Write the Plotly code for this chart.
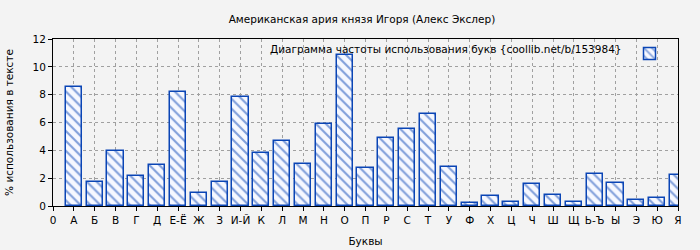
import plotly.graph_objects as go

title = "Американская ария князя Игоря (Алекс Экслер)"
series_name = "Диаграмма частоты использования букв {coollib.net/b/153984}"
x_title = "Буквы"
y_title = "% использования в тексте"

letters = ["0", "А", "Б", "В", "Г", "Д", "Е-Ё", "Ж", "З", "И-Й", "К", "Л", "М", "Н",
           "О", "П", "Р", "С", "Т", "У", "Ф", "Х", "Ц", "Ч", "Ш", "Щ", "Ь-Ъ", "Ы",
           "Э", "Ю", "Я"]
values = [None, 8.55, 1.70, 3.95, 2.13, 2.92, 8.17, 0.91, 1.70, 7.81, 3.78, 4.64, 2.99,
          5.87, 10.82, 2.71, 4.86, 5.51, 6.63, 2.78, 0.19, 0.69, 0.26, 1.56, 0.77,
          0.26, 2.27, 1.63, 0.41, 0.55, 2.20]

positions = list(range(len(letters)))

FONT = "DejaVu Sans"
FS = 10.5
BLUE = "#0a45b5"
BG = "#f3f3f3"

fig = go.Figure()
fig.add_trace(go.Bar(
    x=positions,
    y=values,
    width=0.77,
    name=" ",
    marker=dict(
        color="#ffffff",
        line=dict(color=BLUE, width=1.5),
        pattern=dict(shape="\\", fgcolor=BLUE, bgcolor="#f6f8ff", size=7, solidity=0.3),
    ),
    showlegend=True,
))

fig.update_layout(
    width=700, height=250,
    margin=dict(l=53, r=22, t=39, b=44),
    paper_bgcolor=BG, plot_bgcolor=BG,
    font=dict(family=FONT, size=FS, color="#000"),
    title=dict(text=title, x=362 / 700, xanchor="center", y=1 - 19 / 250, yanchor="middle",
               font=dict(family=FONT, size=FS, color="#000")),
    showlegend=True,
    legend=dict(
        x=1, xanchor="right", y=1, yanchor="top",
        bgcolor="rgba(0,0,0,0)",
        title=dict(text=series_name, side="left", font=dict(family=FONT, size=FS)),
        font=dict(family=FONT, size=FS),
        itemwidth=30,
        tracegroupgap=0,
    ),
    bargap=0,
)

fig.update_xaxes(
    range=[0, len(letters) - 1],
    tickmode="array", tickvals=positions, ticktext=letters,
    ticks="outside", ticklen=4, tickcolor="#000",
    showline=True, linecolor="#000", linewidth=1, mirror=True,
    showgrid=True, gridcolor="#a0a0a0", griddash="dot", gridwidth=1,
    zeroline=False, automargin=False,
    tickfont=dict(family=FONT, size=FS),
    title=dict(text=x_title, font=dict(family=FONT, size=FS), standoff=13),
)
fig.update_yaxes(
    range=[0, 12], dtick=2,
    ticks="outside", ticklen=4, tickcolor="#000",
    showline=True, linecolor="#000", linewidth=1, mirror=True,
    showgrid=True, gridcolor="#a0a0a0", griddash="dot", gridwidth=1,
    zeroline=False, automargin=False,
    tickfont=dict(family=FONT, size=FS),
    title=dict(text=y_title, font=dict(family=FONT, size=FS), standoff=16),
)

fig.write_html("out.html")
